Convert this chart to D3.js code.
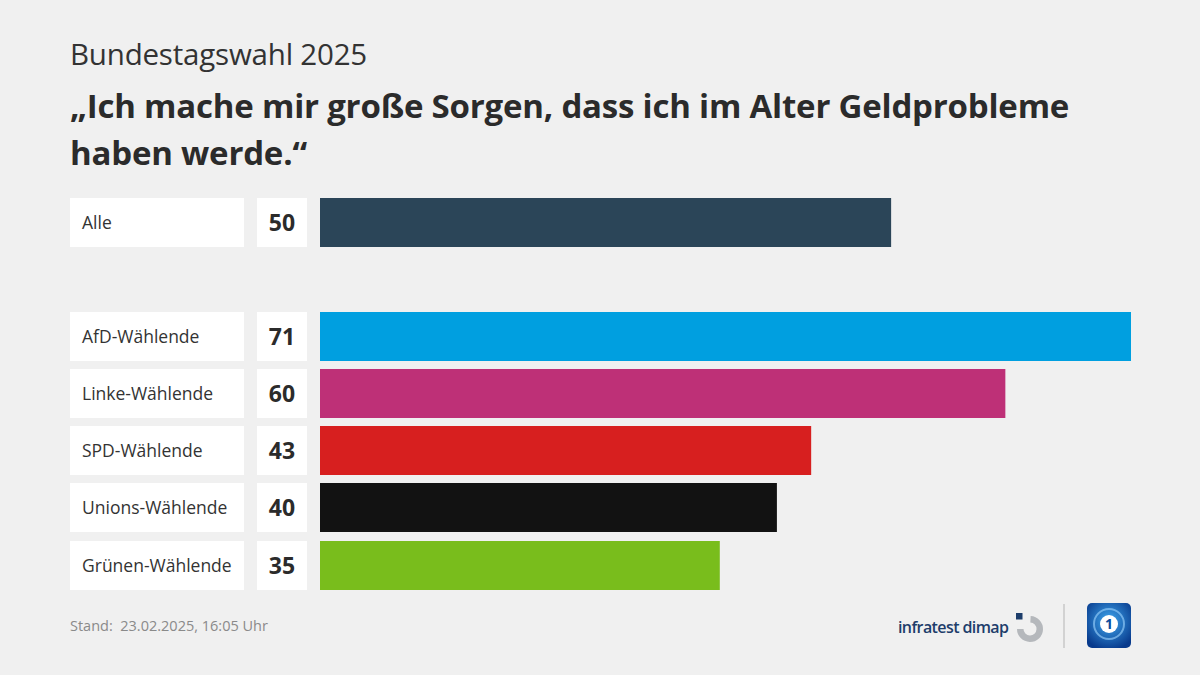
<!DOCTYPE html>
<html><head><meta charset="utf-8">
<script src="https://cdn.jsdelivr.net/npm/d3@7"></script>
<style>html,body{margin:0;padding:0;background:#f0f0f0;}svg{display:block;}</style>
</head><body>
<script>
const categories = ["Alle","AfD-Wählende","Linke-Wählende","SPD-Wählende","Unions-Wählende","Grünen-Wählende"];
const values = [50,71,60,43,40,35];
const colors = ["#2b4558","#009fe0","#be3077","#d71f1f","#121212","#79bd1c"];
const rowTops = [198,312,369,426,483,541];

const W=1200,H=675;
const svg=d3.select("body").append("svg").attr("width",W).attr("height",H);
svg.append("rect").attr("width",W).attr("height",H).attr("fill","#f0f0f0");
const font="'Open Sans', 'Noto Sans', sans-serif";

svg.append("text").attr("x",70).attr("y",65).attr("font-family",font).attr("font-size",29.5).attr("font-weight",400).attr("fill","#333").attr("letter-spacing",-0.2).text("Bundestagswahl 2025");
const ttl=svg.append("text").attr("font-family",font).attr("font-size",33).attr("font-weight",700).attr("fill","#2b2b2b").attr("letter-spacing",-0.2);
ttl.append("tspan").attr("x",70).attr("y",118).text("„Ich mache mir große Sorgen, dass ich im Alter Geldprobleme");
ttl.append("tspan").attr("x",70).attr("y",165).text("haben werde.“");

const x=d3.scaleLinear().domain([0,71]).range([320,1131]);
const bh=49;
const g=svg.append("g");
categories.forEach((c,i)=>{
  const y=rowTops[i];
  g.append("rect").attr("x",70).attr("y",y).attr("width",174).attr("height",bh).attr("fill","#fff");
  g.append("rect").attr("x",257).attr("y",y).attr("width",50).attr("height",bh).attr("fill","#fff");
  g.append("rect").attr("x",x(0)).attr("y",y).attr("width",x(values[i])-x(0)).attr("height",bh).attr("fill",colors[i]);
  g.append("text").attr("x",82).attr("y",y+bh/2).attr("dy","0.37em").attr("font-family",font).attr("font-size",17.5).attr("fill","#333").text(c);
  g.append("text").attr("x",282).attr("y",y+bh/2).attr("dy","0.37em").attr("text-anchor","middle").attr("font-family",font).attr("font-size",23).attr("font-weight",700).attr("fill","#2b2b2b").text(values[i]);
});

svg.append("text").attr("x",70).attr("y",631).attr("font-family",font).attr("font-size",14.5).attr("fill","#8a8a8a").attr("xml:space","preserve").text("Stand:  23.02.2025, 16:05 Uhr");

// infratest dimap logo
svg.append("text").attr("x",898).attr("y",633).attr("font-family",font).attr("font-size",16).attr("font-weight",600).attr("fill","#1d3d6b").attr("letter-spacing",-0.6).text("infratest dimap");
const lg=svg.append("g").attr("transform","translate(1030,629)");
lg.append("path").attr("d",d3.arc()({innerRadius:6.5,outerRadius:13,startAngle:0.05,endAngle:Math.PI*1.5})).attr("fill","#b5b8bc");
lg.append("rect").attr("x",-14).attr("y",-16).attr("width",6.5).attr("height",6.5).attr("fill","#1d3d6b");
svg.append("line").attr("x1",1064).attr("x2",1064).attr("y1",604).attr("y2",648).attr("stroke","#c8c8c8").attr("stroke-width",1.5);
// tagesschau logo
const defs=svg.append("defs");
const rg=defs.append("radialGradient").attr("id","tg").attr("cx","50%").attr("cy","40%").attr("r","65%");
rg.append("stop").attr("offset","0%").attr("stop-color","#3fa7ef");
rg.append("stop").attr("offset","100%").attr("stop-color","#083a8c");
svg.append("rect").attr("x",1087).attr("y",603).attr("width",44).attr("height",45).attr("rx",5).attr("fill","url(#tg)");
svg.append("circle").attr("cx",1109).attr("cy",624).attr("r",15).attr("fill","none").attr("stroke","#9fd6ff").attr("stroke-width",2).attr("opacity",0.6);
svg.append("circle").attr("cx",1109).attr("cy",624).attr("r",9).attr("fill","#fff");
svg.append("text").attr("x",1109).attr("y",629).attr("text-anchor","middle").attr("font-family",font).attr("font-size",14).attr("font-weight",700).attr("fill","#0b4a9c").text("1");
</script>
</body></html>
